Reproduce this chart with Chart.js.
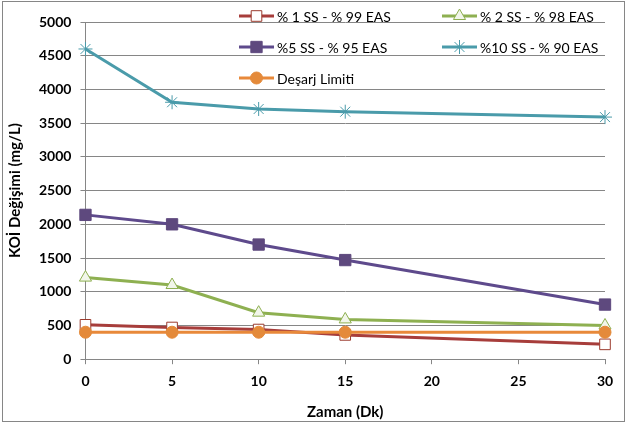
<!DOCTYPE html>
<html>
<head>
<meta charset="UTF-8">
<title>KOİ Değişimi</title>
<style type="text/css">
body { margin: 0; background: #fff; }
#wrap { position: relative; width: 627px; height: 425px; }
</style>
</head>
<body>
	<div id="wrap">
		<canvas id="myChart" width="627" height="425"></canvas>
	</div>

<script src="https://cdn.jsdelivr.net/npm/chart.js"></script>
<script>
	// zaman (dk)
	const zaman = [0, 5, 10, 15, 30];
	const xTicks = [0, 5, 10, 15, 20, 25, 30];
	const yTicks = [0, 500, 1000, 1500, 2000, 2500, 3000, 3500, 4000, 4500, 5000];

	// seriler
	const ss1 = [510, 470, 440, 360, 220];
	const ss2 = [1210, 1100, 690, 590, 500];
	const ss5 = [2140, 2000, 1700, 1470, 810];
	const ss10 = [4600, 3810, 3710, 3670, 3590];
	const desarj = [400, 400, 400, 400, 400];

	const seriesNames = ['% 1 SS - % 99 EAS', '% 2 SS - % 98 EAS', '%5 SS - % 95 EAS', '%10 SS - % 90 EAS', 'Deşarj Limiti'];

	function pts(vals) {
		return vals.map(function(v, i){ return {x: zaman[i], y: v}; });
	}

	const FONT = 'Lato, "Open Sans", sans-serif';

	// excel gibi: grafik alanı içinde lejant
	const innerLegend = {
		id: 'innerLegend',
		afterDraw: function(chart) {
			const ctx = chart.ctx;
			const cols = [239, 442];
			const rows = [16, 47, 78];
			ctx.save();
			chart.data.datasets.forEach(function(ds, i){
				const x = cols[i % 2];
				const y = rows[Math.floor(i / 2)];
				ctx.strokeStyle = ds.borderColor;
				ctx.lineWidth = 3;
				ctx.beginPath();
				ctx.moveTo(x, y);
				ctx.lineTo(x + 35, y);
				ctx.stroke();
				ctx.fillStyle = ds.pointBackgroundColor;
				ctx.strokeStyle = ds.pointBorderColor;
				ctx.lineWidth = ds.pointBorderWidth;
				Chart.helpers.drawPoint(ctx, {
					pointStyle: ds.pointStyle,
					radius: ds.pointRadius,
					borderWidth: ds.pointBorderWidth,
					rotation: 0
				}, x + 17.5, y);
				ctx.fillStyle = '#000';
				ctx.font = '14px ' + FONT;
				ctx.textBaseline = 'middle';
				ctx.textAlign = 'left';
				ctx.fillText(ds.label, x + 38, y + 1);
			});
			ctx.restore();
		}
	};

	// dış çerçeve
	const frame = {
		id: 'frame',
		beforeDraw: function(chart) {
			const ctx = chart.ctx;
			ctx.save();
			ctx.fillStyle = '#fff';
			ctx.fillRect(0, 0, chart.width, chart.height);
			ctx.strokeStyle = '#868686';
			ctx.lineWidth = 1;
			ctx.strokeRect(2.5, 1.5, 622, 420);
			ctx.restore();
		}
	};

	var ctx = document.getElementById('myChart').getContext('2d');
	var chart = new Chart(ctx, {
		type: 'line',
		data: {
			datasets: [{
				label: seriesNames[0],
				data: pts(ss1),
				borderColor: '#A73D3B',
				borderWidth: 3,
				pointStyle: 'rect',
				pointRadius: 7.5,
				pointBackgroundColor: '#ffffff',
				pointBorderColor: '#9B3B2E',
				pointBorderWidth: 1,
				clip: false,
				order: 5
			}, {
				label: seriesNames[1],
				data: pts(ss2),
				borderColor: '#8EB051',
				borderWidth: 3,
				pointStyle: 'triangle',
				pointRadius: 7,
				pointBackgroundColor: '#F2F6EA',
				pointBorderColor: '#8EB051',
				pointBorderWidth: 1,
				clip: false,
				order: 4
			}, {
				label: seriesNames[2],
				data: pts(ss5),
				borderColor: '#5E4A8C',
				borderWidth: 3,
				pointStyle: 'rect',
				pointRadius: 8,
				pointBackgroundColor: '#5E497E',
				pointBorderColor: '#5E497E',
				pointBorderWidth: 1,
				clip: false,
				order: 3
			}, {
				label: seriesNames[3],
				data: pts(ss10),
				borderColor: '#4A9BAA',
				borderWidth: 3,
				pointStyle: 'star',
				pointRadius: 7,
				pointBackgroundColor: '#4A9BAA',
				pointBorderColor: '#4A9BAA',
				pointBorderWidth: 1,
				clip: false,
				order: 2
			}, {
				label: seriesNames[4],
				data: pts(desarj),
				borderColor: '#E8893A',
				borderWidth: 3,
				pointStyle: 'circle',
				pointRadius: 6,
				pointBackgroundColor: '#E48A3A',
				pointBorderColor: '#E48A3A',
				pointBorderWidth: 1,
				clip: false,
				order: 1
			}]
		},
		options: {
			responsive: false,
			animation: false,
			layout: { padding: { left: 6, top: 22, right: 22, bottom: 4 } },
			plugins: {
				legend: { display: false },
				tooltip: { enabled: false }
			},
			elements: { line: { tension: 0 } },
			scales: {
				x: {
					type: 'linear',
					min: 0,
					max: 30,
					afterBuildTicks: function(axis){ axis.ticks = xTicks.map(function(v){ return {value: v}; }); },
					ticks: { color: '#000', font: { family: FONT, size: 14, weight: 'bold' }, padding: 9, callback: function(v){ return String(v); } },
					grid: { drawOnChartArea: false, drawTicks: true, tickLength: 5, color: '#868686' },
					border: { color: '#868686' },
					title: { display: true, text: 'Zaman (Dk)', color: '#000', font: { family: FONT, size: 15, weight: 'bold' }, padding: { top: 4, bottom: 0 } }
				},
				y: {
					min: 0,
					max: 5000,
					afterBuildTicks: function(axis){ axis.ticks = yTicks.map(function(v){ return {value: v}; }); },
					ticks: { color: '#000', font: { family: FONT, size: 14, weight: 'bold' }, padding: 9, callback: function(v){ return String(v); } },
					grid: { color: '#868686', tickLength: 5 },
					border: { color: '#868686' },
					title: { display: true, text: 'KOİ Değişimi (mg/L)', color: '#000', font: { family: FONT, size: 15, weight: 'bold' }, padding: { top: 0, bottom: 6 } }
				}
			}
		},
		plugins: [frame, innerLegend]
	});
</script>
</body>
</html>
